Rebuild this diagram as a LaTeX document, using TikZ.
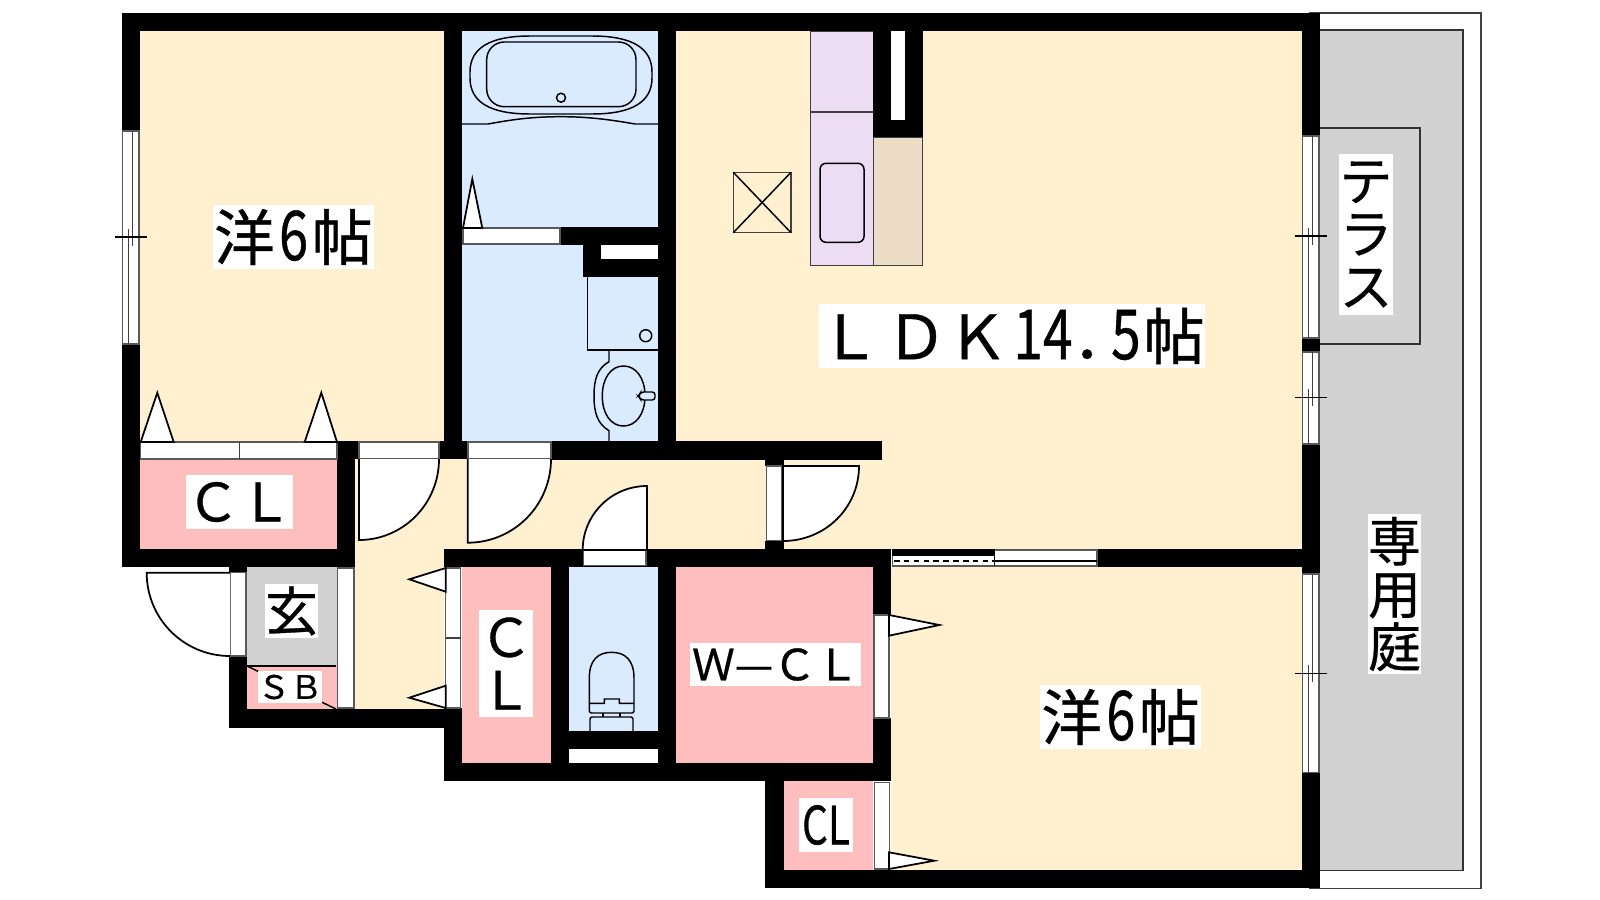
\documentclass[tikz,border=0pt]{standalone}
\usepackage{fontspec}
\usepackage{graphicx}
\setmainfont{Liberation Sans}
\newfontfamily\jp[FakeBold=0.6]{Noto Sans CJK JP}
\newcommand\jpf[1]{\jp\fontsize{#1}{#1}\selectfont}
\definecolor{beige}{HTML}{FFF0D0}
\definecolor{bluef}{HTML}{DBEBFF}
\definecolor{pinkf}{HTML}{FFBEBE}
\definecolor{grayf}{HTML}{D2D2D2}
\definecolor{purplef}{HTML}{ECDDF5}
\definecolor{tanf}{HTML}{EEDDC6}
\tikzset{
  wall/.style={fill=black,draw=none},
  thinl/.style={draw=black,line width=.42pt},
  grayl/.style={draw=black!75,line width=.42pt},
  bandbox/.style={fill=white,draw=black!65,line width=.4pt},
  swing/.style={fill=white,draw=black,line width=.5pt},
  lab/.style={fill=white,inner sep=0pt,outer sep=0pt,align=center,text=black},
}
% sliding window strip: x0, ytop, ybot, ytick
\newcommand\slidewin[4]{%
  \begin{scope}[shift={(#1,0)}]
    \path[bandbox] (0,#2) rectangle (16.3,#3);
    \draw[grayl] (10,#2) -- (10,#4+9);
    \draw[grayl] (5.7,#4-8) -- (5.7,#3);
    \draw[thinl] (-8,#4) -- (24.3,#4);
  \end{scope}}
\begin{document}
\begin{tikzpicture}[x=0.01cm,y=-0.01cm]
\useasboundingbox (0,0) rectangle (1600,900);
\fill[white] (0,0) rectangle (1600,900);
% yard
\draw[grayl,line width=.5pt] (1310,13) rectangle (1481,888.5);
\path[fill=grayf,draw=black!80,line width=.5pt] (1315,30) rectangle (1462.7,870.5);
\draw[draw=black!80,line width=.5pt] (1315,128) rectangle (1420,343.7);
% rooms
\fill[beige] (140,31) rectangle (444,442);
\fill[beige] (676,31) rectangle (1302,549);
\fill[beige] (355,459) rectangle (1302,549);
\fill[beige] (355,459) rectangle (444,709);
\fill[beige] (891,567) rectangle (1302,870);
\fill[bluef] (462,31) rectangle (658,442);
\fill[bluef] (569,567) rectangle (658,731);
\fill[pinkf] (140,459) rectangle (337,549);
\fill[pinkf] (462,567) rectangle (551,763);
\fill[pinkf] (676,567) rectangle (873,763);
\fill[pinkf] (784,781) rectangle (873,870);
\fill[grayf] (247,567) rectangle (337,666);
\fill[pinkf] (247,666) rectangle (337,709);
\draw[thinl] (247,666) -- (336,666);
\draw[thinl] (247,666) -- (336,709);
% kitchen
\path[fill=purplef,grayl] (810.3,31) rectangle (873.3,265.7);
\draw[grayl] (810.3,112) -- (873.3,112);
\draw[thinl,rounded corners=1.7pt] (820,163.3) rectangle (864,242.3);
\path[fill=tanf,grayl] (873.5,137) rectangle (922.7,265.7);
\draw[grayl] (733.3,172.3) rectangle (791,232.7);
\draw[thinl] (733.3,172.3) -- (791,232.7) (733.3,232.7) -- (791,172.3);
% bath
\draw[thinl] (530,36) -- (592,36) .. controls (632,36) and (652,48) .. (652,72) -- (652,78) .. controls (652,102) and (632,114) .. (592,114) -- (530,114) .. controls (490,114) and (470,102) .. (470,78) -- (470,72) .. controls (470,48) and (490,36) .. (530,36);
\draw[thinl,rounded corners=5pt] (486.7,42) rectangle (636,106.7);
\draw[thinl] (561,97.7) circle[radius=4.5];
\draw[thinl] (462,124) -- (488,124) .. controls (510,120) and (530,116.7) .. (561,116.7) .. controls (590,116.7) and (612,120) .. (635,124) -- (658,124);
% wash basin
\draw[thinl] (587.3,276.7) -- (587.3,350) -- (658,350);
\draw[thinl] (645.7,335.7) circle[radius=6];
\draw[thinl] (609,350) -- (609,361.7) .. controls (598,368) and (594,378) .. (594,396) .. controls (594,414) and (598,424) .. (609,430.7) -- (609,441);
\draw[thinl] (623.5,366) .. controls (636,366) and (645,378) .. (645,396) .. controls (645,414) and (636,426) .. (623.5,426) .. controls (611,426) and (602.3,414) .. (602.3,396) .. controls (602.3,378) and (611,366) .. (623.5,366);
\draw[thinl,fill=bluef,rounded corners=.8pt] (655,392) -- (641,392) -- (638.3,396) -- (641,400) -- (655,400) -- cycle;
% toilet
\draw[thinl] (589.3,703.3) -- (589.3,678) .. controls (589.3,660) and (598,652.3) .. (611.6,652.3) .. controls (625,652.3) and (634,660) .. (634,678) -- (634,703.3) -- (619.3,703.3) -- (619.3,699) -- (604.3,699) -- (604.3,703.3) -- cycle;
\draw[thinl,rounded corners=.6pt] (589.3,703.3) -- (589.3,713) -- (634,713) -- (634,703.3);
\draw[thinl] (603,713) -- (603,717) (620,713) -- (620,717);
\draw[thinl,rounded corners=.6pt] (590,731) -- (590,717) -- (633,717) -- (633,731);
% walls
\fill[wall] (122,13) rectangle (1320,31);
\fill[wall] (122,13) rectangle (140,131);
\fill[wall] (122,344) rectangle (140,567);
\fill[wall] (122,549) rectangle (355,567);
\fill[wall] (337,441) rectangle (355,567);
\fill[wall] (337,441) rectangle (359,459);
\fill[wall] (444,31) rectangle (462,441);
\fill[wall] (439,441) rectangle (468,459);
\fill[wall] (551,441) rectangle (882,460);
\fill[wall] (658,31) rectangle (676,441);
\fill[wall] (560,227) rectangle (658,245);
\fill[wall] (583,245) rectangle (601,277);
\fill[wall] (583,259) rectangle (658,277);
\fill[white] (601,245) rectangle (658,259);
\fill[wall] (765,460) rectangle (784,466);
\fill[wall] (765,541) rectangle (784,549);
\fill[wall] (444,549) rectangle (891,567);
\fill[wall] (444,708) rectangle (462,781);
\fill[wall] (229,567) rectangle (247,573);
\fill[wall] (229,656) rectangle (247,728);
\fill[wall] (229,709) rectangle (462,728);
\fill[wall] (551,549) rectangle (569,781);
\fill[wall] (658,549) rectangle (676,781);
\fill[wall] (569,731) rectangle (658,749);
\fill[wall] (444,763) rectangle (891,781);
\fill[wall] (873,567) rectangle (891,615);
\fill[wall] (873,718) rectangle (891,781);
\fill[wall] (765,763) rectangle (784,888);
\fill[wall] (765,870) rectangle (1320,888);
\fill[wall] (1302,13) rectangle (1320,136);
\fill[wall] (1302,338) rectangle (1320,352);
\fill[wall] (1302,444) rectangle (1320,888);
\fill[wall] (1097,549) rectangle (1320,567);
\fill[wall] (873,31) rectangle (923,137);
\fill[white] (891,31) rectangle (905,120);
\fill[white] (569,749) rectangle (658,763);
% closet and door bands
\path[bandbox] (140.7,442) rectangle (337,459);
\draw[grayl] (239.7,442) -- (239.7,459);
\path[bandbox] (359,442) rectangle (439,459);
\path[bandbox] (468,442) rectangle (551,459);
\path[bandbox] (463,228) rectangle (560,244);
\path[bandbox] (583.3,550.7) rectangle (646,565.7);
\path[bandbox] (766.7,466) rectangle (782,540.7);
\path[bandbox] (230.7,572.7) rectangle (246,656);
\path[bandbox] (337.5,568) rectangle (354,708);
\path[bandbox] (445.7,568) rectangle (460.7,708);
\draw[grayl] (445.7,638) -- (460.7,638);
\path[bandbox] (874,615) rectangle (889,718);
\path[bandbox] (874.3,782.3) rectangle (889.3,869);
% folding door triangles
\path[swing] (140.7,442) -- (157.3,392.7) -- (173.7,442) -- cycle;
\path[swing] (304.7,442) -- (321.3,392.7) -- (337,442) -- cycle;
\path[swing] (463,228) -- (472.3,179) -- (482.3,228) -- cycle;
\path[swing] (445.7,568) -- (409.3,579.3) -- (445.7,591.7) -- cycle;
\path[swing] (445.7,685.7) -- (409.3,697.7) -- (445.7,708) -- cycle;
\path[swing] (889,615) -- (939.3,625) -- (889,635.7) -- cycle;
\path[swing] (889,852.3) -- (934.3,860.7) -- (889,869) -- cycle;
% door swings
\path[swing] (359,459) -- (359,540) .. controls (403,540) and (439,504) .. (439,459);
\path[swing] (467.7,459) -- (467.7,542.7) .. controls (514,542.7) and (551,505) .. (551,459);
\path[swing] (230,572.7) -- (146.7,572.7) .. controls (146.7,619) and (184,656) .. (230,656);
\path[swing] (647,550) -- (647,486) .. controls (611,486) and (582.7,515) .. (582.7,550) -- cycle;
\path[swing] (783,466) -- (859,466) .. controls (859,508) and (825,541) .. (783,541) -- cycle;
% sliding door between LDK and bedroom
\path[bandbox] (892.3,550) rectangle (1097,566);
\fill[wall] (892.3,549) rectangle (994.3,556);
\draw[thinl] (994.3,549) -- (994.3,566);
\draw[thinl,line width=.5pt] (994.3,561) -- (1097,561);
\draw[thinl,line width=.5pt,dash pattern=on 1.6pt off 1.2pt] (894,560.7) -- (994.3,560.7);
% sliding windows
\slidewin{122.7}{131}{344}{237}
\slidewin{1302.7}{136}{338}{236}
\slidewin{1302.7}{352}{444}{397.3}
\slidewin{1302.7}{574}{772.7}{673.3}
% labels
\node[lab,minimum width=1.61cm,minimum height=.64cm,font=\jpf{17.3pt}] (bedone) at (293.3,237) {\makebox[0pt]{洋\kern1.2pt\scalebox{.86}[1.13]{6}\kern1pt帖}};
\node[lab,minimum width=1.61cm,minimum height=.64cm,font=\jpf{17.3pt}] (bedtwo) at (1120.5,717) {\makebox[0pt]{洋\kern1.2pt\scalebox{.86}[1.13]{6}\kern1pt帖}};
\node[lab,minimum width=3.86cm,minimum height=.64cm,font=\jpf{17.4pt}] (ldk) at (1012,336) {\makebox[0pt]{Ｌ\kern1.5ptＤＫ\kern1.5pt\scalebox{.87}[1.13]{14}．\kern-6.4pt\scalebox{.87}[1.13]{5}\kern.8pt帖}};
\node[lab,minimum width=1.07cm,minimum height=.54cm,font=\jpf{15pt}] (clone) at (239.5,502) {ＣＬ};
\node[lab,minimum width=.53cm,minimum height=.54cm,font=\jpf{15pt}] (gen) at (291.5,611) {\makebox[0pt]{玄}};
\node[lab,minimum width=.64cm,minimum height=.32cm,font=\jpf{9.2pt}] (sb) at (290,687) {ＳＢ};
\node[lab,minimum width=.54cm,minimum height=1.07cm,font=\jpf{15pt}] (cltwo) at (506,663.5) {Ｃ\\Ｌ};
\node[lab,minimum width=1.71cm,minimum height=.43cm,font=\jpf{12.2pt}] (wcl) at (775.5,664.5) {Ｗ—ＣＬ};
\node[lab,minimum width=.54cm,minimum height=.54cm,font=\jpf{15pt}] (clthree) at (826,825) {\scalebox{.77}[1]{CL}};
\node[lab,minimum width=.54cm,minimum height=1.61cm,font=\jpf{15pt}] (terrace) at (1366,234.5) {テ\\ラ\\ス};
\node[lab,minimum width=.53cm,minimum height=1.6cm,font=\jpf{15pt}] (yard) at (1394.5,594) {専\\用\\庭};
\end{tikzpicture}
\end{document}
